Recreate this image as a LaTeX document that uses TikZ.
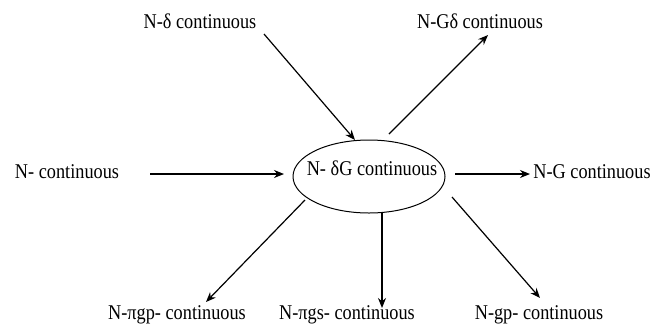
\documentclass[tikz,border=0pt]{standalone}
\usepackage{fontspec}
\setmainfont{Liberation Serif}[FakeStretch=0.87]
\usetikzlibrary{arrows.meta,shapes.geometric}
\begin{document}
\begin{tikzpicture}[x=1pt,y=-1pt,
  lbl/.style={font=\fontsize{21}{24}\selectfont, inner sep=0pt, anchor=base},
  link/.style={line width=1.2pt, -{Stealth[length=10pt,width=8pt]}}]
\useasboundingbox (0,0) rectangle (656,325);
% labels (placed by their baselines)
\node[lbl] (d)   at (200,28)  {N-δ continuous};
\node[lbl] (gd)  at (480,28)  {N-Gδ continuous};
\node[lbl] (n)   at (67,178)  {N- continuous};
\node[lbl] (g)   at (592,178) {N-G continuous};
\node[lbl] (pgp) at (177,319) {N-πgp- continuous};
\node[lbl] (pgs) at (347,319) {N-πgs- continuous};
\node[lbl] (gp)  at (539,319) {N-gp- continuous};
% central notion
\node[ellipse, draw, line width=1pt, minimum width=152pt, minimum height=73pt, inner sep=0pt] (c) at (369,176.5) {};
\node[lbl] (ct) at (372,175) {N- δG continuous};
% arrow end points
\coordinate (ds)  at (264,34);
\coordinate (dt)  at (355,140);
\coordinate (gds) at (389,134);
\coordinate (gdt) at (488,35);
\coordinate (ns)  at (150,174);
\coordinate (nt)  at (284,174);
\coordinate (gs)  at (455,174);
\coordinate (gt)  at (530,174);
\coordinate (ps)  at (305,200);
\coordinate (pt)  at (206,302);
\coordinate (ss)  at (382,213);
\coordinate (st)  at (382,308);
\coordinate (qs)  at (452,197);
\coordinate (qt)  at (540,298);
\draw[link] (ds) -- (dt);
\draw[link] (gds) -- (gdt);
\draw[link] (ns) -- (nt);
\draw[link] (gs) -- (gt);
\draw[link] (ps) -- (pt);
\draw[link] (ss) -- (st);
\draw[link] (qs) -- (qt);
\end{tikzpicture}
\end{document}
